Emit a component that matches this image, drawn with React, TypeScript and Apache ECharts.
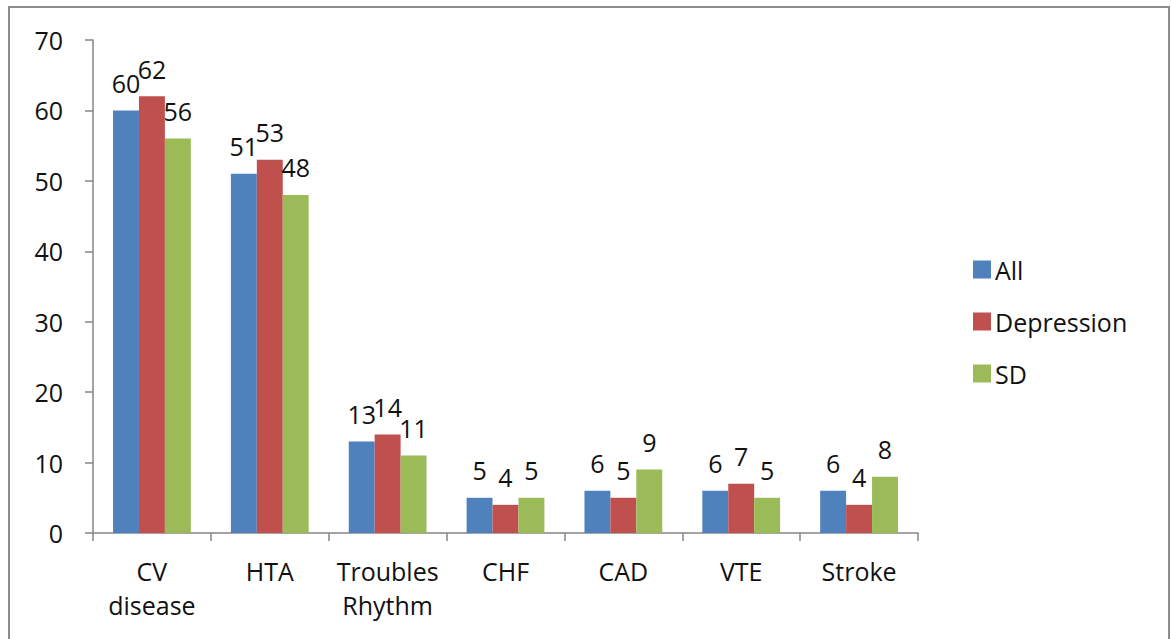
import React, { useEffect, useRef } from "react";
import * as echarts from "echarts";

const categories = ["CV\ndisease", "HTA", "Troubles\nRhythm", "CHF", "CAD", "VTE", "Stroke"];
const seriesNames = ["All", "Depression", "SD"];
const allValues = [60, 51, 13, 5, 6, 6, 6];
const depressionValues = [62, 53, 14, 4, 5, 7, 4];
const sdValues = [56, 48, 11, 5, 9, 5, 8];
const colors = ["#4F81BD", "#C0504D", "#9BBB59"];

export default function App() {
  const ref = useRef<HTMLDivElement>(null);
  useEffect(() => {
    document.body.style.margin = "0";
    const chart = echarts.init(ref.current!, null, { renderer: "svg" });
    const font = "'Open Sans', sans-serif";
    const fs = 25;
    const dataSets = [allValues, depressionValues, sdValues];
    chart.setOption({
      animation: false,
      backgroundColor: "#ffffff",
      textStyle: { fontFamily: font },
      graphic: [
        {
          type: "rect",
          shape: { x: 9, y: 7, width: 1160, height: 640 },
          style: { fill: "none", stroke: "#8c8c8c", lineWidth: 2 },
          silent: true,
        },
      ],
      legend: {
        orient: "vertical",
        left: 968,
        top: 252,
        itemWidth: 18,
        itemHeight: 18,
        itemGap: 27,
        icon: "rect",
        textStyle: { fontSize: fs, color: "#111", fontFamily: font, padding: [0, 0, 0, -1] },
        data: seriesNames,
      },
      grid: { left: 93, right: 254, top: 40, bottom: 106 },
      xAxis: {
        type: "category",
        data: categories,
        axisLine: { lineStyle: { color: "#868686", width: 1.5 } },
        axisTick: { show: true, interval: 0, length: 8, lineStyle: { color: "#868686", width: 1.5 } },
        axisLabel: { interval: 0, fontSize: fs, color: "#111", margin: 21, lineHeight: 34, fontFamily: font },
      },
      yAxis: {
        type: "value",
        min: 0,
        max: 70,
        interval: 10,
        splitLine: { show: false },
        axisLine: { show: true, lineStyle: { color: "#868686", width: 1.5 } },
        axisTick: { show: true, length: 8, lineStyle: { color: "#868686", width: 1.5 } },
        axisLabel: { fontSize: fs, color: "#111", margin: 30, fontFamily: font },
      },
      series: seriesNames.map((name, i) => ({
        name,
        type: "bar",
        data: dataSets[i],
        barGap: "0%",
        barCategoryGap: "34%",
        itemStyle: { color: colors[i] },
        label: {
          show: true,
          position: "top",
          distance: 15,
          fontSize: fs,
          color: "#111",
          fontFamily: font,
        },
      })),
    });
    return () => chart.dispose();
  }, []);
  return <div ref={ref} style={{ width: 1172, height: 639 }} />;
}
